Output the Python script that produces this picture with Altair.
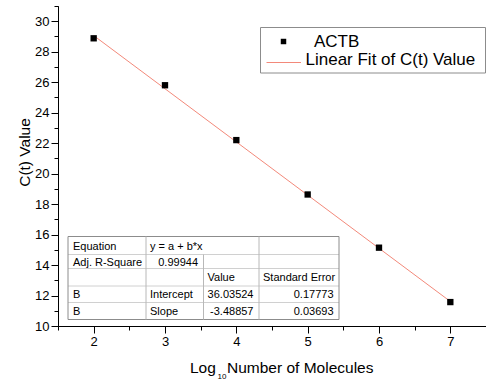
import altair as alt
import pandas as pd

# ---------------- data ----------------
log_molecules = [2, 3, 4, 5, 6, 7]
ct_values = [28.88, 25.80, 22.20, 18.63, 15.14, 11.57]
fit_x = [2, 7]
fit_ct = [29.06, 11.61]

x_major = [2, 3, 4, 5, 6, 7]
x_minor = [1.5, 2.5, 3.5, 4.5, 5.5, 6.5, 7.5]
y_major = [10, 12, 14, 16, 18, 20, 22, 24, 26, 28, 30]
y_minor = [11, 13, 15, 17, 19, 21, 23, 25, 27, 29, 31]

legend_labels = ["ACTB", "Linear Fit of C(t) Value"]

table_c1 = ["Equation", "Adj. R-Square", "", "B", "B"]
table_c2 = ["y = a + b*x", "0.99944", "", "Intercept", "Slope"]
table_c3 = ["", "", "Value", "36.03524", "-3.48857"]
table_c4 = ["", "", "Standard Error", "0.17773", "0.03693"]
right_aligned = {(1, 1), (3, 2), (4, 2), (3, 3), (4, 3)}

# ---------------- layout ----------------
FONT = "Liberation Sans"
L, T, W, H = 58, 6, 428, 320
FIT_COLOR = "#F3897A"

col_edges = [68, 146, 203.5, 259, 339]
row_edges = [236.5, 254.5, 268.5, 286, 302.5, 319.5]

xs = alt.Scale(domain=[1.5, 7.5], nice=False, zero=False)
ys = alt.Scale(domain=[10, 31], nice=False, zero=False)

common_axis = dict(grid=False, domainColor="black", tickColor="black",
                   domainWidth=1, tickWidth=1, labelFont=FONT,
                   labelColor="black", labelFontSize=13)

pts = pd.DataFrame({"x": log_molecules, "y": ct_values})
fit = pd.DataFrame({"x": fit_x, "y": fit_ct})

points = alt.Chart(pts).mark_point(shape="square", filled=True, size=40,
                                   color="black", opacity=1).encode(
    x=alt.X("x:Q", scale=xs, axis=alt.Axis(values=x_major, tickSize=7,
                                            labelPadding=2, title=None,
                                            orient="bottom", format="d",
                                            **common_axis)),
    y=alt.Y("y:Q", scale=ys, axis=alt.Axis(values=y_major, tickSize=7,
                                            labelPadding=2, format="d",
                                            orient="left",
                                            title="C(t) Value",
                                            titleFont=FONT, titleFontSize=15.5,
                                            titleFontWeight="normal",
                                            titleColor="black",
                                            titleAngle=270,
                                            titleAlign="center",
                                            titleBaseline="alphabetic",
                                            titleX=29 - L, titleY=152 - T,
                                            **common_axis)),
)

line = alt.Chart(fit).mark_line(color=FIT_COLOR, strokeWidth=1).encode(
    x=alt.X("x:Q", scale=xs, axis=alt.Axis(values=x_minor, tickSize=4,
                                            labels=False, title=None,
                                            orient="bottom", **common_axis)),
    y=alt.Y("y:Q", scale=ys, axis=alt.Axis(values=y_minor, tickSize=4,
                                            labels=False, title=None,
                                            orient="left", **common_axis)),
)

# ---------------- legend (annotation) ----------------
leg_box = alt.Chart(pd.DataFrame({"a": [0]})).mark_rect(
    fill="white", stroke="#8c8c8c", strokeWidth=1).encode(
    x=alt.value(260.5 - L), x2=alt.value(485.5 - L),
    y=alt.value(27.5 - T), y2=alt.value(73 - T))
leg_sq = alt.Chart(pd.DataFrame({"a": [0]})).mark_point(
    shape="square", filled=True, size=30, color="black", opacity=1).encode(
    x=alt.value(283.5 - L), y=alt.value(41.5 - T))
leg_line = alt.Chart(pd.DataFrame({"a": [0]})).mark_rule(
    color=FIT_COLOR, strokeWidth=1).encode(
    x=alt.value(266.5 - L), x2=alt.value(301 - L), y=alt.value(62.5 - T))
leg_text = alt.Chart(pd.DataFrame({
    "label": legend_labels,
    "px": [314 - L, 305.5 - L],
    "py": [47.3 - T, 65.3 - T]})).mark_text(
    align="left", baseline="alphabetic", font=FONT, fontSize=17,
    color="black").encode(
    x=alt.X("px:Q", scale=None, axis=None),
    y=alt.Y("py:Q", scale=None, axis=None),
    text="label:N")

# ---------------- table (annotation) ----------------
cols = [table_c1, table_c2, table_c3, table_c4]
cells = []
for r in range(5):
    for c in range(4):
        txt = cols[c][r]
        if not txt:
            continue
        ra = (r, c) in right_aligned
        px = (col_edges[c + 1] - 5.5) if ra else (col_edges[c] + (5 if c == 0 else 4))
        py = (row_edges[r] + row_edges[r + 1]) / 2 + 4
        cells.append({"text": txt, "px": px - L, "py": py - T,
                      "al": "right" if ra else "left"})
cells = pd.DataFrame(cells)

rules = []
for i, ye in enumerate(row_edges):
    outer = i in (0, len(row_edges) - 1)
    rules.append({"x": col_edges[0] - L, "x2": col_edges[-1] - L,
                  "y": ye - T, "y2": ye - T,
                  "c": "#8c8c8c" if outer else "#d0d0d0"})
for j, xe in enumerate(col_edges):
    outer = j in (0, len(col_edges) - 1)
    top = row_edges[1] if j == 2 else row_edges[0]
    rules.append({"x": xe - L, "x2": xe - L, "y": top - T,
                  "y2": row_edges[-1] - T,
                  "c": "#8c8c8c" if outer else "#b8b8b8"})
rules = pd.DataFrame(rules)

tbl_bg = alt.Chart(pd.DataFrame({"a": [0]})).mark_rect(fill="white").encode(
    x=alt.value(col_edges[0] - L), x2=alt.value(col_edges[-1] - L),
    y=alt.value(row_edges[0] - T), y2=alt.value(row_edges[-1] - T))
tbl_rules = alt.Chart(rules).mark_rule(strokeWidth=1).encode(
    x=alt.X("x:Q", scale=None, axis=None), x2="x2:Q",
    y=alt.Y("y:Q", scale=None, axis=None), y2="y2:Q",
    color=alt.Color("c:N", scale=None, legend=None))


def cell_layer(al):
    return alt.Chart(cells[cells["al"] == al]).mark_text(
        align=al, baseline="alphabetic", font=FONT, fontSize=11,
        color="black").encode(
        x=alt.X("px:Q", scale=None, axis=None),
        y=alt.Y("py:Q", scale=None, axis=None),
        text="text:N")


# ---------------- x title with subscript ----------------
xt = pd.DataFrame({"t": ["Log", "Number of Molecules"],
                   "px": [190 - L, 227 - L], "py": [373 - T, 373 - T]})
x_title = alt.Chart(xt).mark_text(align="left", baseline="alphabetic",
                                  font=FONT, fontSize=15.5,
                                  color="black").encode(
    x=alt.X("px:Q", scale=None, axis=None),
    y=alt.Y("py:Q", scale=None, axis=None), text="t:N")
x_sub = alt.Chart(pd.DataFrame({"t": ["10"]})).mark_text(
    align="left", baseline="alphabetic", font=FONT, fontSize=8,
    color="black").encode(x=alt.value(217.5 - L), y=alt.value(379 - T),
                          text="t:N")

chart = alt.layer(
    line, points, leg_box, leg_sq, leg_line, leg_text,
    tbl_bg, tbl_rules, cell_layer("left"), cell_layer("right"),
    x_title, x_sub
).resolve_axis(x="independent", y="independent").properties(
    width=W, height=H,
    autosize=alt.AutoSizeParams(type="none"),
    padding={"left": L, "top": T, "right": 486 - L - W, "bottom": 383 - T - H},
    background="white",
).configure_view(stroke=None)

chart.save("out.html", embed_options={"renderer": "svg", "actions": False})
